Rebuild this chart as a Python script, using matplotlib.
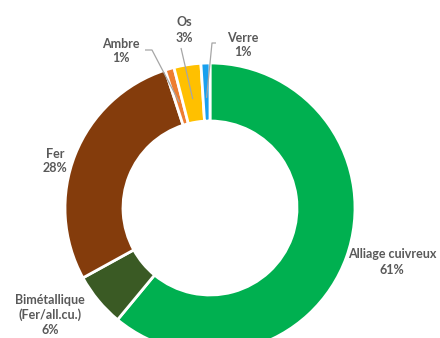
import matplotlib
matplotlib.use("Agg")
import matplotlib.pyplot as plt
import numpy as np

categories = ["Alliage cuivreux", "Bimétallique\n(Fer/all.cu.)", "Fer", "Ambre", "Os", "Verre"]
values = [61, 6, 28, 1, 3, 1]
pct_labels = ["61%", "6%", "28%", "1%", "3%", "1%"]
colors = ["#00B050", "#3A5A24", "#843C0C", "#ED7D31", "#FFC000", "#19A0EE"]

W, H = 440, 338
cx, cy, R = 210, 208, 145  # pixel geometry of the donut

fig = plt.figure(figsize=(W / 100, H / 100), dpi=100)
ax = fig.add_axes([0, 0, 1, 1])

wedges, _ = ax.pie(values, colors=colors, startangle=90, counterclock=False,
                   radius=1.0, wedgeprops=dict(width=0.40, edgecolor="white", linewidth=2))

ax.set_xlim(-cx / R, (W - cx) / R)
ax.set_ylim(-(H - cy) / R, cy / R)
ax.set_aspect("equal")
ax.axis("off")

def px(x, y):
    return ((x - cx) / R, (cy - y) / R)

label_px = [(392, 262), (50, 315), (55, 161), (121, 51), (184, 30), (243, 45)]
leader = [False, False, False, True, True, True]
leader_start = [None, None, None, [(145, 50), (152, 50)], [(181, 48)], [(216, 43), (212, 43)]]

for w, cat, pct, lp, has_leader, ls in zip(wedges, categories, pct_labels, label_px, leader, leader_start):
    x, y = px(*lp)
    ax.text(x, y, f"{cat}\n{pct}", ha="center", va="center", fontsize=9,
            fontweight="bold", color="#595959", family="Lato", linespacing=1.3)
    if has_leader:
        mid = np.deg2rad((w.theta1 + w.theta2) / 2)
        rr = 0.76
        ex, ey = rr * np.cos(mid), rr * np.sin(mid)
        pts = [px(*p) for p in ls] + [(ex, ey)]
        xs, ys = zip(*pts)
        ax.plot(xs, ys, color="#A6A6A6", lw=0.9, solid_capstyle="butt")

fig.savefig("out.png", dpi=100)
